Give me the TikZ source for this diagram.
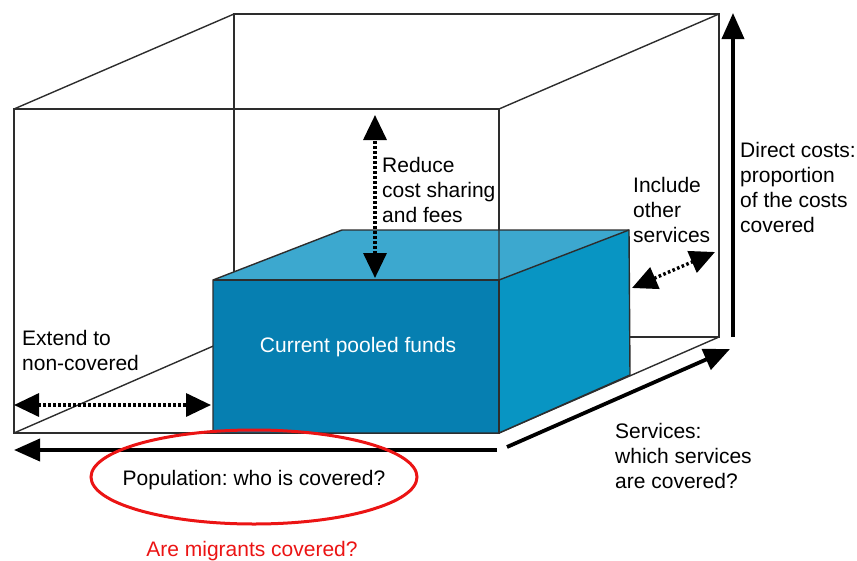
\documentclass[tikz,border=0pt]{standalone}
\usepackage{fontspec}
\setmainfont{Liberation Sans}
\usetikzlibrary{arrows.meta}
\definecolor{frontblue}{RGB}{6,127,177}
\definecolor{sideblue}{RGB}{8,149,195}
\definecolor{topblue}{RGB}{60,168,207}
\definecolor{edgegray}{RGB}{45,45,45}
\definecolor{ringred}{RGB}{235,20,20}
\frenchspacing

\begin{document}
\begin{tikzpicture}[x=1pt,y=-1pt,
    lbl/.style={anchor=base west,align=left,inner sep=0pt,font=\fontsize{21}{25}\selectfont},
    boxline/.style={draw=edgegray,line width=1.4pt,line join=miter},
    dotarrow/.style={line width=3.4pt,dash pattern=on 2.6pt off 2.4pt,
        {Triangle[length=25pt,width=23pt]}-{Triangle[length=25pt,width=23pt]}},
    bigarrow/.style={line width=3.8pt,-{Triangle[length=26pt,width=22pt]}}]
                \useasboundingbox (0,0) rectangle (857,560);

                % outer box, back and front
                \coordinate (b1) at (234,14);
                \coordinate (b2) at (719,14);
                \coordinate (b3) at (719,337);
                \coordinate (b4) at (234,337);
                \coordinate (f1) at (14,109);
                \coordinate (f2) at (499,109);
                \coordinate (f3) at (499,433);
                \coordinate (f4) at (14,433);
                \draw[boxline] (b1) -- (b2) -- (b3) -- (b4) -- cycle;
                \draw[boxline] (f1) -- (f2) -- (f3) -- (f4) -- cycle;
                \draw[boxline] (f1) -- (b1);
                \draw[boxline] (f2) -- (b2);
                \draw[boxline] (f3) -- (b3);
                \draw[boxline] (f4) -- (b4);

                % pooled funds block
                \coordinate (p1) at (213,280);
                \coordinate (p2) at (499,280);
                \coordinate (p3) at (499,433);
                \coordinate (p4) at (213,433);
                \coordinate (q1) at (342,230);
                \coordinate (q2) at (629,230);
                \coordinate (q3) at (630,375);
                \fill[topblue] (p1) -- (q1) -- (q2) -- (p2) -- cycle;
                \fill[sideblue] (p2) -- (q2) -- (q3) -- (p3) -- cycle;
                \fill[frontblue] (p1) -- (p2) -- (p3) -- (p4) -- cycle;
                \draw[boxline] (p1) -- (q1) -- (q2) -- (q3) -- (p3) -- (p4) -- cycle;
                \draw[boxline] (p1) -- (p2) -- (p3);
                \draw[boxline] (p2) -- (q2);
                \draw[draw=edgegray,line width=1.2pt,opacity=0.6] (499,230) -- (p2);

                % arrow ends
                \coordinate (redtop) at (375,115);
                \coordinate (redbot) at (375,278);
                \coordinate (extl) at (14,405);
                \coordinate (extr) at (211,405);
                \coordinate (incl) at (632,288);
                \coordinate (incr) at (715,252);
                \coordinate (dirlow) at (733,337);
                \coordinate (dirtop) at (733,13);
                \coordinate (popr) at (497,450);
                \coordinate (popl) at (14,450);
                \coordinate (serl) at (507,447);
                \coordinate (serr) at (730,349);

                \path [dotarrow] (redbot) edge (redtop);
                \path [dotarrow] (extl) edge (extr);
                \path [dotarrow] (incl) edge (incr);
                \path [bigarrow] (dirlow) edge (dirtop);
                \path [bigarrow] (popr) edge (popl);
                \path [bigarrow] (serl) edge (serr);

                % labels (base = last line)
                \node[lbl] (reduce) at (382,222) {Reduce\\cost sharing\\and fees};
                \node[lbl] (include) at (633,242) {Include\\other\\services};
                \node[lbl] (direct) at (740,232) {Direct costs:\\proportion\\of the costs\\covered};
                \node[lbl] (extend) at (22,370) {Extend to\\non-covered};
                \node[lbl] (services) at (615,488) {Services:\\which services\\are covered?};
                \node[lbl,anchor=base,text=white] (pooled) at (358,352) {Current pooled funds};
                \node[lbl,anchor=base] (population) at (254,485) {Population: who is covered?};
                \node[lbl,anchor=base,text=ringred] (migrants) at (252,556) {Are migrants covered?};
                \draw[ringred,line width=3pt] (254,477) ellipse [x radius=163,y radius=47];
            \end{tikzpicture}
\end{document}
